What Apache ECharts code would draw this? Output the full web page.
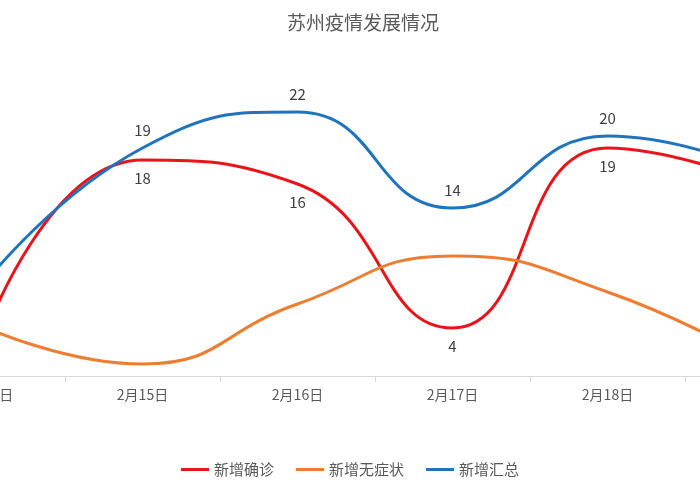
<!DOCTYPE html><html><head><meta charset="utf-8">
<script src="https://cdn.jsdelivr.net/npm/echarts@6/dist/echarts.min.js"></script>
<style>body{margin:0}#c{width:700px;height:500px}</style></head><body><div id="c"></div><script>
const categories=['2月14日','2月15日','2月16日','2月17日','2月18日','2月19日'];
const confirmed=[4,18,16,4,19,16];
const asymptomatic=[4,1,6,10,7,1];
const total=[8,19,22,14,20,17];
const chart=echarts.init(document.getElementById('c'));
const lbl=(pos)=>({show:true,position:pos,distance:10,color:'#404040',fontSize:15,fontFamily:'Noto Sans CJK SC'});
const common={type:'line',smooth:true,symbol:'circle',symbolSize:1,showSymbol:true};
chart.setOption({
 title:{text:'苏州疫情发展情况',left:358,top:8,textAlign:'center',textStyle:{color:'#595959',fontSize:19,fontWeight:'normal',fontFamily:'Noto Sans CJK SC'}},
 legend:{bottom:18,left:'center',itemWidth:28,itemHeight:3,itemGap:22,icon:'rect',textStyle:{color:'#595959',fontSize:15,fontFamily:'Noto Sans CJK SC'}},
 grid:{left:-90,right:-140,top:16,bottom:124,outerBoundsMode:'none',containLabel:false},
 xAxis:{type:'category',data:categories,boundaryGap:true,axisLine:{lineStyle:{color:'#d9d9d9'}},axisTick:{show:true,length:6,lineStyle:{color:'#d9d9d9'}},axisLabel:{color:'#595959',fontSize:14,margin:12,fontFamily:'Noto Sans CJK SC'}},
 yAxis:{type:'value',min:0,max:30,show:false,splitLine:{show:false}},
 series:[
  Object.assign({},common,{name:'新增确诊',data:confirmed,lineStyle:{width:3,color:'#e8141a'},itemStyle:{color:'#e8141a'},label:lbl('bottom')}),
  Object.assign({},common,{name:'新增无症状',data:asymptomatic,lineStyle:{width:3,color:'#ed7d31'},itemStyle:{color:'#ed7d31'}}),
  Object.assign({},common,{name:'新增汇总',data:total,lineStyle:{width:3,color:'#1f74bd'},itemStyle:{color:'#1f74bd'},label:lbl('top')})
 ]
});
</script></body></html>
